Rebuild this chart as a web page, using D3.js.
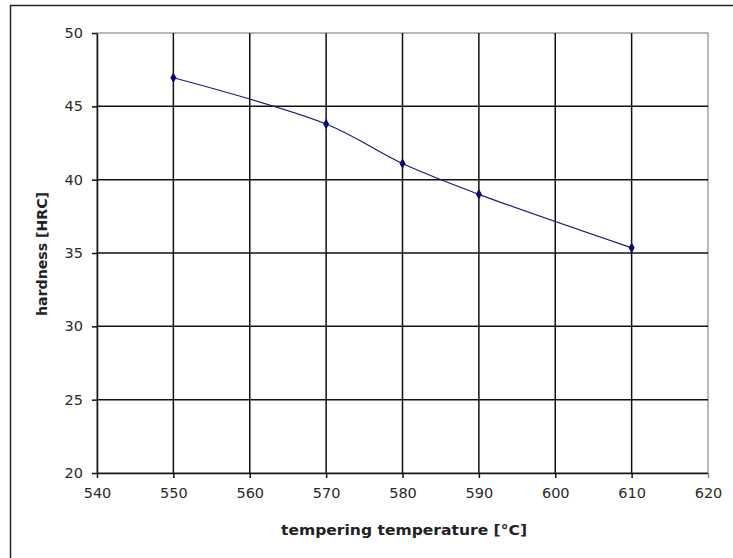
<!DOCTYPE html>
<html>
<head>
<meta charset="utf-8">
<script src="https://cdn.jsdelivr.net/npm/d3@7"></script>
<style>
  html, body { margin: 0; padding: 0; background: #fff; }
  svg { display: block; }
</style>
</head>
<body>
<svg id="chart" width="733" height="558"></svg>
<script>
const temperatures = [550, 570, 580, 590, 610];
const hardness = [46.95, 43.8, 41.1, 39.0, 35.35];
const xTicks = [540, 550, 560, 570, 580, 590, 600, 610, 620];
const yTicks = [20, 25, 30, 35, 40, 45, 50];
const xTitle = "tempering temperature [°C]";
const yTitle = "hardness [HRC]";

const svg = d3.select("#chart");
const W = 733, H = 558;
const m = { left: 97, top: 33, right: 708, bottom: 473 };

const x = d3.scaleLinear().domain([540, 620]).range([m.left, m.right]);
const y = d3.scaleLinear().domain([20, 50]).range([m.bottom, m.top]);

// outer frame
svg.append("rect")
  .attr("x", 10.5).attr("y", 5.5)
  .attr("width", W + 20).attr("height", H + 20)
  .attr("fill", "#fff").attr("stroke", "#222").attr("stroke-width", 1.5);

// plot border (gray top/right)
svg.append("rect")
  .attr("x", m.left).attr("y", m.top)
  .attr("width", m.right - m.left).attr("height", m.bottom - m.top)
  .attr("fill", "none").attr("stroke", "#8a8a8a").attr("stroke-width", 1.2);

// grid lines
const g = svg.append("g");
g.selectAll(".vg").data(xTicks.filter(d => d > 540 && d < 620)).enter().append("line")
  .attr("x1", d => x(d)).attr("x2", d => x(d))
  .attr("y1", m.top).attr("y2", m.bottom)
  .attr("stroke", "#111").attr("stroke-width", 1.5);
g.selectAll(".hg").data(yTicks.filter(d => d > 20 && d < 50)).enter().append("line")
  .attr("x1", m.left).attr("x2", m.right)
  .attr("y1", d => y(d)).attr("y2", d => y(d))
  .attr("stroke", "#111").attr("stroke-width", 1.5);

// axes
const xAxis = d3.axisBottom(x).tickValues(xTicks).tickSize(5).tickPadding(10).tickSizeOuter(0);
const yAxis = d3.axisLeft(y).tickValues(yTicks).tickSize(5).tickPadding(9).tickSizeOuter(0);

const gx = svg.append("g").attr("transform", `translate(0,${m.bottom})`).call(xAxis);
const gy = svg.append("g").attr("transform", `translate(${m.left},0)`).call(yAxis);

[gx, gy].forEach(a => {
  a.select(".domain").attr("stroke", "#111").attr("stroke-width", 1.5);
  a.selectAll(".tick line").attr("stroke", "#111").attr("stroke-width", 1.5);
  a.selectAll(".tick text")
    .attr("fill", "#2a2a2a")
    .style("font-family", "DejaVu Sans, Verdana, sans-serif")
    .style("font-size", "14.5px");
});
gx.selectAll(".tick").filter(d => d === 620).select("line").attr("stroke", "#8a8a8a");

// line
const pts = temperatures.map((t, i) => [t, hardness[i]]);
const line = d3.line().x(d => x(d[0])).y(d => y(d[1])).curve(d3.curveCatmullRom.alpha(0.5));
svg.append("path").datum(pts)
  .attr("d", line)
  .attr("fill", "none").attr("stroke", "#1a1a80").attr("stroke-width", 1.2);

// markers
svg.selectAll(".pt").data(pts).enter().append("path")
  .attr("transform", d => `translate(${x(d[0])},${y(d[1])})`)
  .attr("d", d3.symbol().type(d3.symbolDiamond).size(32))
  .attr("fill", "#0a0a6e");

// titles
svg.append("text")
  .attr("x", 404).attr("y", 535)
  .attr("text-anchor", "middle")
  .attr("fill", "#222")
  .style("font-family", "DejaVu Sans, Verdana, sans-serif")
  .style("font-weight", "bold")
  .style("font-size", "14.5px")
  .attr("textLength", 246).attr("lengthAdjust", "spacingAndGlyphs")
  .text(xTitle);

svg.append("text")
  .attr("transform", "translate(47,254) rotate(-90)")
  .attr("text-anchor", "middle")
  .attr("fill", "#222")
  .style("font-family", "DejaVu Sans, Verdana, sans-serif")
  .style("font-weight", "bold")
  .style("font-size", "13.5px")
  .attr("textLength", 124).attr("lengthAdjust", "spacingAndGlyphs")
  .text(yTitle);
</script>
</body>
</html>
